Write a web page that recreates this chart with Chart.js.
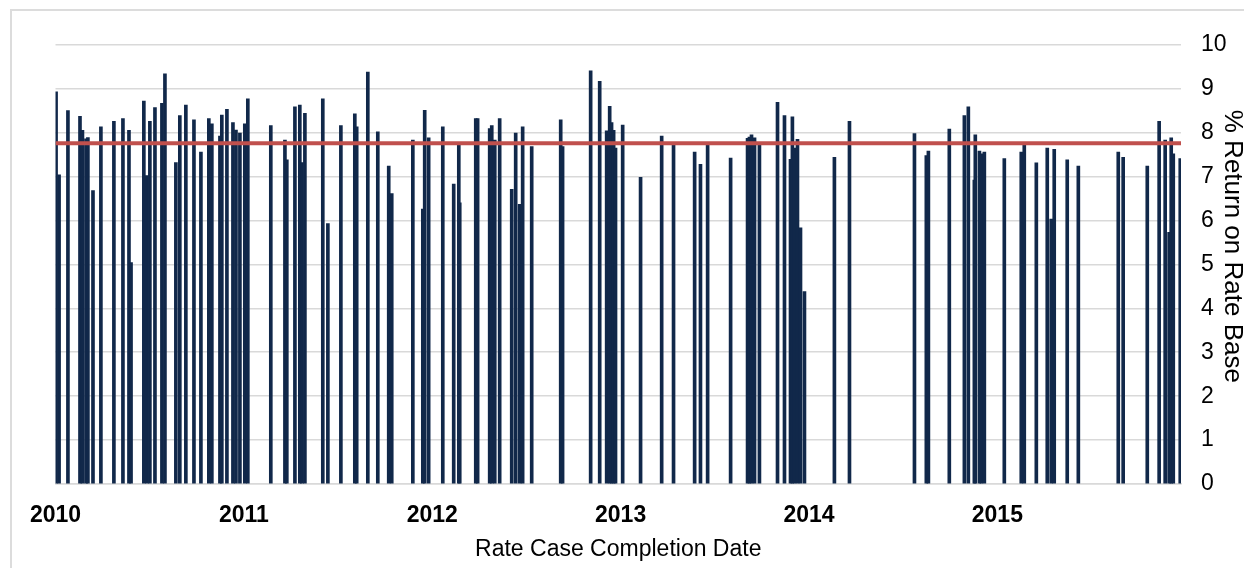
<!DOCTYPE html>
<html>
<head>
<meta charset="utf-8">
<script src="https://cdn.jsdelivr.net/npm/chart.js@4/dist/chart.umd.min.js"></script>
<style>
  html, body { margin: 0; padding: 0; background: #fff; overflow: hidden; width: 1244px; height: 568px; }
  #frame { position: absolute; left: 10px; top: 9px; width: 1300px; height: 600px; border: 2px solid #dcdcdc; }
  #chart { position: absolute; left: 12px; top: 11px; }
</style>
</head>
<body>
<div id="frame"></div>
<canvas id="chart" width="1236" height="560"></canvas>
<script>
// rate case completion dates, as fractional years
const completionDates = [
  2010.003, 2010.019, 2010.066, 2010.130, 2010.143, 2010.162, 2010.172, 2010.199, 2010.241, 2010.310,
  2010.358, 2010.390, 2010.401, 2010.469, 2010.485, 2010.501, 2010.528, 2010.565, 2010.581, 2010.639,
  2010.660, 2010.692, 2010.735, 2010.772, 2010.814, 2010.830, 2010.873, 2010.883, 2010.910, 2010.942,
  2010.958, 2010.979, 2011.005, 2011.021, 2011.143, 2011.218, 2011.228, 2011.271, 2011.297, 2011.308,
  2011.324, 2011.419, 2011.446, 2011.515, 2011.589, 2011.599, 2011.658, 2011.711, 2011.769, 2011.785,
  2011.897, 2011.950, 2011.960, 2011.981, 2012.056, 2012.114, 2012.141, 2012.146, 2012.231, 2012.241,
  2012.305, 2012.316, 2012.332, 2012.358, 2012.422, 2012.443, 2012.464, 2012.480, 2012.528, 2012.682,
  2012.692, 2012.841, 2012.889, 2012.926, 2012.942, 2012.952, 2012.963, 2012.973, 2013.011, 2013.106,
  2013.218, 2013.281, 2013.393, 2013.424, 2013.462, 2013.584, 2013.674, 2013.684, 2013.695, 2013.711,
  2013.737, 2013.833, 2013.870, 2013.902, 2013.912, 2013.923, 2013.939, 2013.955, 2013.976, 2014.135,
  2014.215, 2014.560, 2014.623, 2014.634, 2014.745, 2014.825, 2014.846, 2014.878, 2014.883, 2014.905,
  2014.915, 2014.931, 2015.037, 2015.127, 2015.143, 2015.207, 2015.265, 2015.286, 2015.302, 2015.371,
  2015.430, 2015.642, 2015.668, 2015.796, 2015.859, 2015.891, 2015.912, 2015.923, 2015.934, 2015.971,
]

// % return on rate base for each case
const returnOnRateBase = [
  8.93, 7.04, 8.50, 8.37, 8.05, 7.86, 7.89, 6.68, 8.13, 8.26,
  8.32, 8.05, 5.04, 8.72, 7.02, 8.26, 8.57, 8.67, 9.34, 7.32,
  8.39, 8.63, 8.29, 7.56, 8.32, 8.20, 7.92, 8.40, 8.53, 8.23,
  8.06, 7.99, 8.20, 8.77, 8.16, 7.83, 7.38, 8.59, 8.63, 7.32,
  8.44, 8.77, 5.93, 8.16, 8.43, 8.13, 9.38, 8.02, 7.24, 6.61,
  7.83, 6.26, 8.51, 7.88, 8.13, 6.83, 7.73, 6.40, 8.32, 8.32,
  8.09, 8.16, 7.83, 8.32, 6.71, 7.99, 6.37, 8.13, 7.68, 8.29,
  7.68, 9.41, 9.17, 8.04, 8.60, 8.23, 8.05, 7.65, 8.17, 6.98,
  7.92, 7.74, 7.56, 7.28, 7.73, 7.42, 7.87, 7.90, 7.95, 7.88,
  7.73, 8.69, 8.39, 7.39, 8.36, 7.65, 7.85, 5.83, 4.38, 7.44,
  8.26, 7.98, 7.48, 7.58, 8.08, 8.39, 8.59, 6.92, 7.95, 7.58,
  7.52, 7.56, 7.41, 7.56, 7.75, 7.31, 7.65, 6.03, 7.62, 7.38,
  7.24, 7.56, 7.44, 7.24, 8.26, 7.83, 5.73, 7.88, 7.52, 7.41,
]

const yearTicks = [2010, 2011, 2012, 2013, 2014, 2015]
const averageReturn = 7.76
const xStart = 2010
const xEnd = 2015.975

Chart.defaults.font.family = '"Liberation Sans", Arial, sans-serif'
Chart.defaults.color = '#000'

const ctx = document.getElementById('chart')

new Chart(ctx.getContext('2d'), {
  type: 'bar',
  data: {
    datasets: [
      {
        type: 'line',
        label: 'Average',
        data: [
          { x: xStart, y: averageReturn },
          { x: xEnd, y: averageReturn },
        ],
        borderColor: '#c0504d',
        borderWidth: 4,
        pointRadius: 0,
        order: 0,
      },
      {
        label: '% Return on Rate Base',
        data: completionDates.map((d, i) => ({ x: d, y: returnOnRateBase[i] })),
        backgroundColor: '#11284a',
        borderWidth: 0,
        barThickness: 3,
        order: 1,
      },
    ],
  },
  options: {
    responsive: false,
    animation: false,
    devicePixelRatio: 1,
    layout: {
      padding: { left: 43.5, right: 0, top: 29.5, bottom: 8 },
    },
    plugins: {
      legend: { display: false },
      tooltip: { enabled: false },
    },
    scales: {
      x: {
        type: 'linear',
        min: xStart,
        max: xEnd,
        offset: false,
        grid: { display: false },
        border: { display: true, color: '#d9d9d9', width: 1.5 },
        afterBuildTicks: (scale) => {
          scale.ticks = yearTicks.map((v) => ({ value: v }))
        },
        afterFit: (scale) => {
          scale.height = 79
        },
        ticks: {
          padding: 10,
          maxRotation: 0,
          autoSkip: false,
          font: { size: 23, weight: 'bold' },
          callback: function (value) {
            return String(value)
          },
        },
        title: {
          display: true,
          text: 'Rate Case Completion Date',
          font: { size: 23 },
          padding: 0,
        },
      },
      y: {
        position: 'right',
        min: 0,
        max: 10,
        grid: { color: '#d9d9d9', lineWidth: 1.5, drawTicks: false },
        border: { display: false },
        afterFit: (scale) => {
          scale.width = 67
        },
        ticks: {
          stepSize: 1,
          padding: 20,
          font: { size: 23 },
        },
        title: {
          display: true,
          // trailing spaces nudge the title up a little, like the original
          text: '% Return on Rate Base     ',
          font: { size: 26 },
          padding: 0,
        },
      },
    },
  },
})
</script>
</body>
</html>
